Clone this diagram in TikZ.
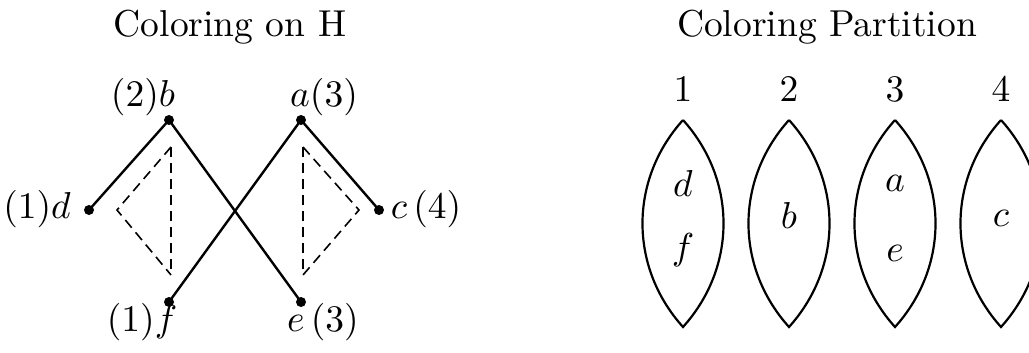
\documentclass[tikz,border=0pt]{standalone}
\usepackage{graphicx}
\newcommand\hs[1]{\scalebox{3.75}{#1}}
\begin{document}
\begin{tikzpicture}[x=1pt,y=-1pt,
  lbl/.style={inner sep=0pt, font=\fontsize{10}{12}\selectfont},
  vtx/.style={circle,fill=black,inner sep=0pt,minimum size=10pt},
  edge/.style={line width=2.4pt},
  dsh/.style={line width=1.6pt, dash pattern=on 10pt off 6pt},
  lens/.style={line width=2.2pt}]
\useasboundingbox (0,0) rectangle (1029,353);
\clip (0,0) rectangle (1029,353);
% titles
\node[lbl,anchor=base] (t1) at (230,37) {\hs{Coloring on H}};
\node[lbl,anchor=base] (t2) at (827,37) {\hs{Coloring Partition}};
% vertices
\node[vtx] (b) at (169,120) {};
\node[vtx] (a) at (301,120) {};
\node[vtx] (d) at (89,210) {};
\node[vtx] (c) at (379,210) {};
\node[vtx] (f) at (169,302) {};
\node[vtx] (e) at (301,302) {};
% vertex labels
\node[lbl] (lb) at (143,97) {\hs{$(2)b$}};
\node[lbl] (la) at (324,97) {\hs{$a(3)$}};
\node[lbl] (ld) at (37,209) {\hs{$(1)d$}};
\node[lbl] (lc) at (426,209) {\hs{$c\,(4)$}};
\node[lbl] (lf) at (142,322) {\hs{$(1)f$}};
\node[lbl] (le) at (323,322) {\hs{$e\,(3)$}};
% edges
\draw[edge] (b.center) -- (d.center);
\draw[edge] (b.center) -- (e.center);
\draw[edge] (a.center) -- (f.center);
\draw[edge] (a.center) -- (c.center);
% dashed triangles
\coordinate (p1) at (171,147);
\coordinate (p2) at (117,210);
\coordinate (p3) at (171,275);
\coordinate (q1) at (303,147);
\coordinate (q2) at (359,210);
\coordinate (q3) at (303,275);
\draw[dsh] (p1) -- (p2) -- (p3);
\draw[dsh] (p1) -- (p3);
\draw[dsh] (q1) -- (q2) -- (q3);
\draw[dsh] (q1) -- (q3);
% partition
\foreach \i/\x in {1/683,2/789,3/895,4/1001}{
  \node[lbl,anchor=base] (n\i) at (\x,102) {\hs{$\i$}};
  \coordinate (top\i) at (\x,120);
  \coordinate (bot\i) at (\x,327);
  \draw[lens] (top\i) to[bend right=42] (bot\i) to[bend right=42] (top\i);
}
\node[lbl] (md) at (683,183) {\hs{$d$}};
\node[lbl] (mf) at (683,250) {\hs{$f$}};
\node[lbl] (mb) at (789,215) {\hs{$b$}};
\node[lbl] (ma) at (895,183) {\hs{$a$}};
\node[lbl] (me) at (895,253) {\hs{$e$}};
\node[lbl] (mc) at (1001,218) {\hs{$c$}};
\end{tikzpicture}
\end{document}
